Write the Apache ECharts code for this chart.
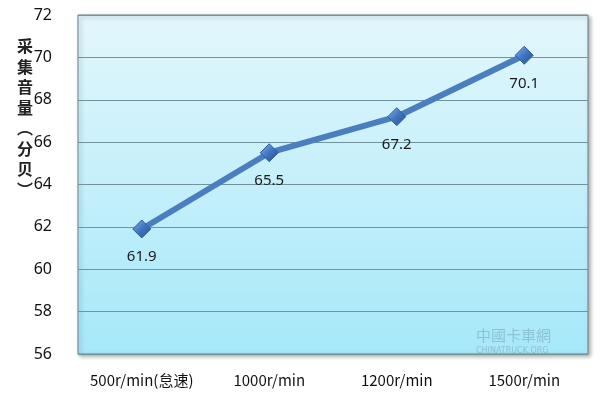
<!DOCTYPE html>
<html>
<head>
<meta charset="utf-8">
<script src="https://cdn.jsdelivr.net/npm/echarts@6/dist/echarts.min.js"></script>
<style>
  html, body { margin: 0; padding: 0; background: #fff; }
  #main { width: 600px; height: 399px; }
</style>
</head>
<body>
<div id="main"></div>
<script>
var categories = ['500r/min(怠速)', '1000r/min', '1200r/min', '1500r/min'];
var volume = [61.9, 65.5, 67.2, 70.1];
var yTicks = { min: 56, max: 72, step: 2 };
var axisTitle = ['采', '集', '音', '量', '︵', '分', '贝', '︶'];

var chartDom = document.getElementById('main');
var myChart = echarts.init(chartDom);

var option = {
  animation: false,
  grid: {
    left: 78,
    right: 12,
    top: 15,
    bottom: 45,
    show: true,
    borderColor: '#6f8088',
    borderWidth: 1,
    shadowColor: 'rgba(0,0,0,0.35)',
    shadowBlur: 4,
    shadowOffsetX: 2,
    shadowOffsetY: 2,
    backgroundColor: new echarts.graphic.LinearGradient(0, 0, 0, 1, [
      { offset: 0, color: '#e3f7fc' },
      { offset: 1, color: '#a6e8f9' }
    ])
  },
  graphic: [
    {
      type: 'text',
      left: 17,
      top: 36,
      style: {
        text: axisTitle.join('\n'),
        fontFamily: 'Noto Sans CJK SC',
        fontSize: 16,
        fontWeight: 'bold',
        lineHeight: 20.5,
        fill: '#222',
        align: 'center'
      }
    },
    // watermark, roughly
    {
      type: 'text',
      left: 476,
      top: 328,
      style: {
        text: '中國卡車網',
        fontFamily: 'Noto Sans CJK SC',
        fontSize: 15,
        fill: 'rgba(90,120,150,0.35)'
      }
    },
    {
      type: 'text',
      left: 476,
      top: 347,
      style: {
        text: 'CHINATRUCK.ORG',
        fontFamily: 'DejaVu Sans',
        fontSize: 8,
        fill: 'rgba(110,130,150,0.4)'
      }
    }
  ],
  xAxis: {
    type: 'category',
    data: categories,
    boundaryGap: true,
    axisLine: { show: false },
    axisTick: { show: false },
    axisLabel: {
      interval: 0,
      color: '#111',
      fontSize: 15,
      margin: 19,
      fontFamily: 'Noto Sans CJK SC'
    }
  },
  yAxis: {
    type: 'value',
    min: yTicks.min,
    max: yTicks.max,
    interval: yTicks.step,
    axisLine: { show: false },
    axisTick: { show: false },
    axisLabel: {
      color: '#111',
      fontSize: 16,
      margin: 26,
      fontFamily: 'Noto Sans'
    },
    splitLine: { lineStyle: { color: '#73939c', width: 1 } }
  },
  series: [
    {
      type: 'line',
      data: volume,
      symbol: 'diamond',
      symbolSize: 18,
      lineStyle: { color: '#4a7ebf', width: 6 },
      itemStyle: {
        color: new echarts.graphic.LinearGradient(0, 0, 1, 1, [
          { offset: 0, color: '#8ab4e8' },
          { offset: 0.5, color: '#3f74c0' },
          { offset: 1, color: '#24518f' }
        ]),
        borderColor: '#2f5f9e',
        borderWidth: 1
      },
      label: {
        show: true,
        position: 'bottom',
        distance: 11,
        color: '#1a1a1a',
        fontSize: 15,
        fontFamily: 'Noto Sans'
      }
    }
  ]
};
myChart.setOption(option);
</script>
</body>
</html>
